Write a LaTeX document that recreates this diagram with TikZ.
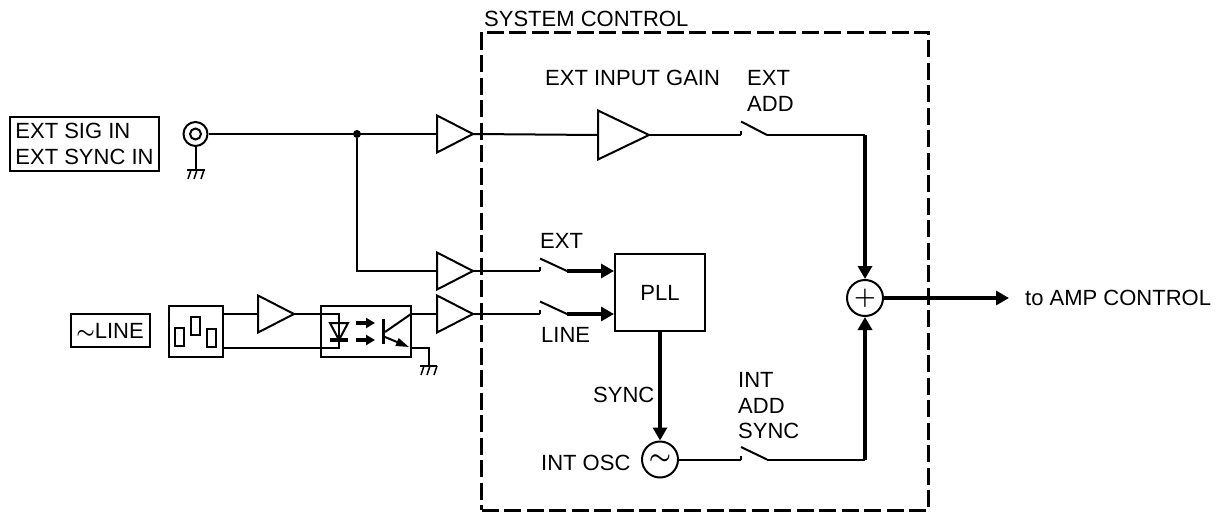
\documentclass[tikz,border=0pt]{standalone}
\usepackage{fontspec}
\setmainfont{Liberation Sans}
\usetikzlibrary{shapes.geometric, arrows.meta, positioning}
\tikzstyle{sig} = [line width=2pt]
\tikzstyle{power} = [line width=3.2pt,-{Triangle[length=13pt,width=14pt]}]
\tikzstyle{tag} = [draw, line width=2pt, inner sep=4pt, align=left]
\tikzstyle{lbl} = [anchor=west, inner sep=0pt, align=left]
\tikzstyle{amp} = [draw, line width=2pt, isosceles triangle, isosceles triangle stretches, inner sep=0pt, outer sep=0pt, anchor=lower side, minimum width=37pt, minimum height=36pt]
\tikzstyle{ring} = [draw, line width=2pt, circle, inner sep=0pt, minimum size=36pt]
\tikzstyle{pin} = [draw, line width=2pt, inner sep=0pt, minimum width=9pt, minimum height=18pt]

\begin{document}
\begin{tikzpicture}[x=1pt, y=-1pt, font=\fontsize{22}{25.5}\selectfont, line join=miter]
\useasboundingbox (0,0) rectangle (1225,514);

% Frame
\node (frame) [draw, line width=3pt, dash pattern=on 17pt off 5.5pt, minimum width=447pt, minimum height=478pt, inner sep=0pt] at (705,271) {};
\node (frameTitle) [lbl] at (484,19) {SYSTEM CONTROL};

% Inputs
\node (sigTag) [tag, minimum width=149pt, minimum height=54pt] at (84.5,144) {EXT SIG IN \\ EXT SYNC IN};
\node (lineTag) [tag, minimum width=79pt, minimum height=33pt, inner sep=0pt] at (110,330.5) {{\boldmath$\sim$}LINE};
\node (jack) [ring, minimum size=24pt] at (195.5,134) {};
\node (jackCore) [ring, minimum size=11pt] at (195.5,134) {};
\node (socket) [draw, line width=2pt, minimum width=54pt, minimum height=51pt, inner sep=0pt] at (196,331.5) {};
\node (pinLeft) [pin] at (179.5,337) {};
\node (pinMid) [pin] at (195.5,325.5) {};
\node (pinRight) [pin] at (211.5,337.5) {};
\coordinate (socketTop) at (223,314);
\coordinate (socketBot) at (223,348);
\node (junction) [circle, fill=black, inner sep=0pt, minimum size=8pt] at (357,134) {};

% Amplifiers
\node (ampSig) [amp] at (437,134) {};
\node (ampExt) [amp] at (437,271) {};
\node (ampLine) [amp] at (437,314) {};
\node (ampMains) [amp] at (258,314) {};
\node (ampGain) [amp, minimum width=49pt, minimum height=51pt] at (598,135) {};

% Opto coupler
\node (opto) [draw, line width=2pt, minimum width=90pt, minimum height=51pt, inner sep=0pt] at (366,331.5) {};
\coordinate (optoTop) at (339,314);
\coordinate (optoBot) at (339,348);
\coordinate (optoOutTop) at (411,314);
\coordinate (optoOutBot) at (411,348);
\draw [sig] (330,323) -- (348,323) -- (339,340) -- cycle;
\draw [line width=3.2pt] (330,340) -- (348,340);
\draw [line width=3.2pt, -{Triangle[length=9pt,width=10pt]}] (356,323) -- (375,323);
\draw [line width=3.2pt, -{Triangle[length=9pt,width=10pt]}] (356,340) -- (375,340);
\draw [line width=3.2pt] (383.5,319) -- (383.5,344);
\draw [sig] (385,332) -- (optoOutTop);
\draw [sig, -{Triangle[length=13pt,width=8pt]}] (385,337) -- (409,347);

% Switches
\coordinate (swAddIn) at (741,135);
\coordinate (swAddOut) at (767,135);
\coordinate (swExtIn) at (540,271);
\coordinate (swExtOut) at (567,271);
\coordinate (swLineIn) at (540,314);
\coordinate (swLineOut) at (567,314);
\coordinate (swIntIn) at (741,459.5);
\coordinate (swIntOut) at (767,459.5);
\draw [sig] (swAddIn) -- ++(0,-4);
\draw [sig] (741,121.5) -- (swAddOut);
\draw [sig] (swExtIn) -- ++(0,-4);
\draw [sig] (540,258.5) -- (swExtOut);
\draw [sig] (swLineIn) -- ++(0,-4);
\draw [sig] (540,301.5) -- (swLineOut);
\draw [sig] (swIntIn) -- ++(0,-4);
\draw [sig] (741,447) -- (swIntOut);

% Blocks
\node (pll) [draw, line width=2pt, minimum width=90pt, minimum height=77pt, inner sep=0pt] at (660,292.5) {PLL};
\node (osc) [ring, font=\fontsize{24.88}{25}\selectfont] at (660,459.5) {{\boldmath$\sim$}};
\node (sum) [ring, font=\fontsize{29.86}{30}\selectfont] at (865,298) {{\boldmath$+$}};

% Labels
\node (gainLabel) [lbl] at (545,78) {EXT INPUT GAIN};
\node (addLabel) [lbl] at (747,91) {EXT \\ ADD};
\node (extLabel) [lbl] at (540,241) {EXT};
\node (lineLabel) [lbl] at (541,335) {LINE};
\node (syncLabel) [lbl] at (593,395) {SYNC};
\node (intLabel) [lbl] at (738,406) {INT \\ ADD \\ SYNC};
\node (oscLabel) [lbl] at (541,463) {INT OSC};
\node (ampLabel) [lbl] at (1025,298) {to AMP CONTROL};

% Edges
\draw [sig] (jack) -- (ampSig.lower side);
\draw [sig] (ampSig.apex) -- (ampGain.lower side);
\draw [sig] (ampGain.apex) -- (swAddIn);
\draw [sig] (junction) |- (ampExt.lower side);
\draw [sig] (ampExt.apex) -- (swExtIn);
\draw [sig] (ampLine.apex) -- (swLineIn);
\draw [sig] (socketTop) -- (ampMains.lower side);
\draw [sig] (ampMains.apex) -- (optoTop) -- (optoBot) -- (socketBot);
\draw [sig] (optoOutTop) -- (ampLine.lower side);
\draw [power] (swExtOut) -- (swExtOut -| pll.west);
\draw [power] (swLineOut) -- (swLineOut -| pll.west);
\draw [power] (pll) -- (osc);
\draw [sig] (osc) -- (swIntIn);
\coordinate (addCorner) at (sum.north |- swAddOut);
\coordinate (intCorner) at (sum.south |- swIntOut);
\draw [sig] (swAddOut) -- (addCorner);
\draw [sig] (swIntOut) -- (intCorner);
\draw [power] (addCorner) -- (sum);
\draw [power] (intCorner) -- (sum);
\draw [power, shorten >=16pt] (sum) -- (ampLabel);

% Grounds
\coordinate (gndJack) at (195.5,170);
\coordinate (gndOpto) at (428.5,366);
\draw [sig] (jack) -- (gndJack);
\draw [sig] (187,170) -- (205,170);
\draw [line width=1.5pt] (191,170) -- ++(-3,9) (197,170) -- ++(-3,9) (204,170) -- ++(-3,9);
\draw [sig] (optoOutBot) -| (gndOpto);
\draw [sig] (420,366) -- (437,366);
\draw [line width=1.5pt] (424,366) -- ++(-3,9) (430,366) -- ++(-3,9) (437,366) -- ++(-3,9);
\end{tikzpicture}
\end{document}
